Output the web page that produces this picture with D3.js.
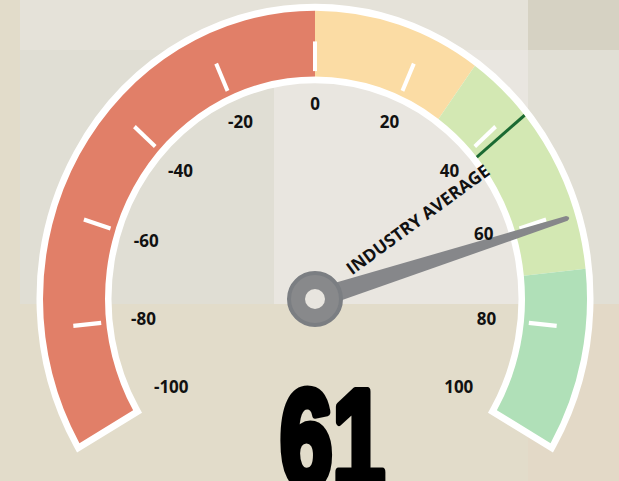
<!DOCTYPE html>
<html>
<head>
<meta charset="utf-8">
<script src="https://cdn.jsdelivr.net/npm/d3@7"></script>
<style>
  html, body { margin: 0; padding: 0; overflow: hidden; background: #e2dcca; }
  svg { display: block; }
</style>
</head>
<body>
<svg id="chart"></svg>
<script>
// gauge data
const bandStarts = [-100, 0, 30, 70]
const bandEnds = [0, 30, 70, 100]
const bandColors = ['#e17f68', '#fbdca4', '#d3e8b3', '#b0e0b8']
const tickLabels = [-100, -80, -60, -40, -20, 0, 20, 40, 60, 80, 100]
const tickMarks = [-80, -60, -40, -20, 0, 20, 40, 60, 80]
const industryAverage = 42
const currentValue = 61
const averageText = 'INDUSTRY AVERAGE'

const width = 619, height = 481
const cx = 315, cy = 299, sy = 1.06   // the gauge is a little taller than wide
const rOuter = 272, rInner = 210

const svg = d3.select('#chart').attr('width', width).attr('height', height)

// background patches (the source is a composite screenshot)
const bg = [
  [0, 0, 619, 481, '#e2dcca'],
  [20, 0, 508, 50, '#e5e2d9'],
  [528, 0, 91, 50, '#d6d2c3'],
  [20, 50, 254, 254, '#e0ded4'],
  [274, 50, 254, 254, '#e9e6e0'],
  [528, 50, 91, 254, '#e1dfd5'],
  [528, 304, 91, 177, '#e3d9c7']
]
svg.append('g').selectAll('rect').data(bg).join('rect')
  .attr('x', d => d[0]).attr('y', d => d[1])
  .attr('width', d => d[2]).attr('height', d => d[3])
  .attr('fill', d => d[4])

const angle = d3.scaleLinear().domain([-100, 100]).range([-2 * Math.PI / 3, 2 * Math.PI / 3])
const pos = (v, r) => {
  const a = angle(v)
  return [cx + r * Math.sin(a), cy - sy * r * Math.cos(a)]
}

const arc = d3.arc().innerRadius(rInner).outerRadius(rOuter)

const gauge = svg.append('g').attr('transform', `translate(${cx},${cy}) scale(1,${sy})`)

// white outline round the band
gauge.append('path')
  .attr('d', arc({ startAngle: angle(-100), endAngle: angle(100) }))
  .attr('fill', '#fff').attr('stroke', '#fff')
  .attr('stroke-width', 13).attr('stroke-linejoin', 'miter')

// coloured bands
gauge.selectAll('path.band')
  .data(d3.range(bandStarts.length))
  .join('path')
  .attr('class', 'band')
  .attr('d', i => arc({ startAngle: angle(bandStarts[i]), endAngle: angle(bandEnds[i]) }))
  .attr('fill', i => bandColors[i])

// white ticks inside the band
gauge.selectAll('line.tick')
  .data(tickMarks)
  .join('line')
  .attr('class', 'tick')
  .attr('x1', d => 215 * Math.sin(angle(d))).attr('y1', d => -215 * Math.cos(angle(d)))
  .attr('x2', d => 243 * Math.sin(angle(d))).attr('y2', d => -243 * Math.cos(angle(d)))
  .attr('stroke', '#fff').attr('stroke-width', 4)

// industry average marker
gauge.append('line')
  .attr('x1', rInner * Math.sin(angle(industryAverage))).attr('y1', -rInner * Math.cos(angle(industryAverage)))
  .attr('x2', rOuter * Math.sin(angle(industryAverage))).attr('y2', -rOuter * Math.cos(angle(industryAverage)))
  .attr('stroke', '#1b6a32').attr('stroke-width', 3)

// label for the average, running out from the hub
const avgTip = pos(industryAverage, 100)
const avgDeg = Math.atan2(avgTip[1] - cy, avgTip[0] - cx) * 180 / Math.PI + 5
svg.append('text')
  .attr('transform', `translate(${cx},${cy}) rotate(${avgDeg})`)
  .attr('x', 130).attr('y', -4)
  .attr('text-anchor', 'middle')
  .attr('dominant-baseline', 'central')
  .attr('font-family', '"Open Sans", "Noto Sans", sans-serif')
  .attr('font-weight', 700)
  .attr('font-size', 17.5)
  .attr('fill', '#111')
  .text(averageText)

// needle
const tip = pos(currentValue, 267)
const len = Math.hypot(tip[0] - cx, tip[1] - cy)
const deg = Math.atan2(tip[1] - cy, tip[0] - cx) * 180 / Math.PI
svg.append('path')
  .attr('transform', `translate(${cx},${cy}) rotate(${deg})`)
  .attr('d', `M0,-10 L${len - 4},-2.5 Q${len + 1},0 ${len - 4},2.5 L0,10 Z`)
  .attr('fill', '#86878a')

svg.append('circle')
  .attr('cx', cx).attr('cy', cy).attr('r', 26)
  .attr('fill', '#88898b').attr('stroke', '#7b7e82').attr('stroke-width', 4)
svg.append('circle')
  .attr('cx', cx).attr('cy', cy).attr('r', 10)
  .attr('fill', '#e8e5df')

// scale labels (drawn over the needle so they stay readable)
const labelR = v => 184 - 18 * Math.pow(v / 100, 2)
svg.append('g').selectAll('text')
  .data(tickLabels)
  .join('text')
  .attr('x', d => pos(d, labelR(d))[0])
  .attr('y', d => pos(d, labelR(d))[1] - (d === 60 ? 7 : 0))
  .attr('text-anchor', 'middle')
  .attr('dominant-baseline', 'central')
  .attr('font-family', '"Open Sans", "Noto Sans", sans-serif')
  .attr('font-weight', 700)
  .attr('font-size', 17)
  .attr('fill', '#111')
  .text(d => d)

// big value
const big = svg.append('text')
  .attr('text-anchor', 'middle')
  .attr('font-family', '"Liberation Sans", Arial, sans-serif')
  .attr('font-weight', 700)
  .attr('font-size', 138)
  .attr('fill', '#000')
  .attr('stroke', '#000')
  .attr('stroke-width', 9)
  .attr('stroke-linejoin', 'round')
  .text(currentValue)
const bw = big.node().getComputedTextLength() + 9
const sx = 111 / bw
big.attr('transform', `translate(332.5,486) scale(${sx},1)`)
</script>
</body>
</html>
